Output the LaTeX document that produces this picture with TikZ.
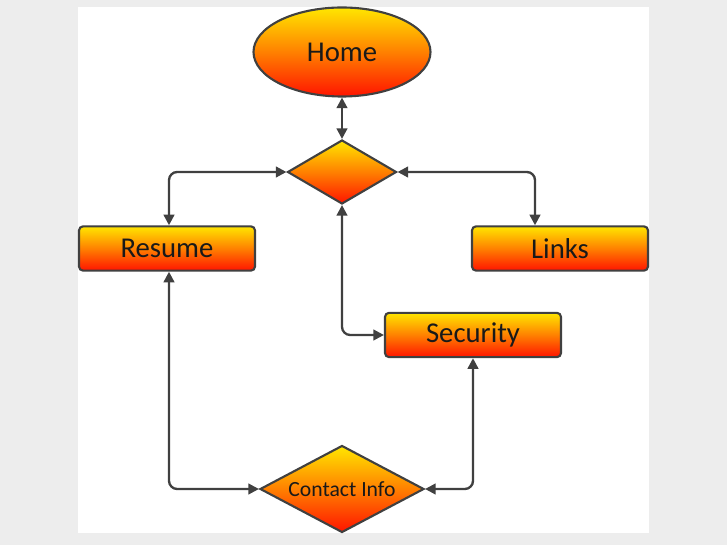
\documentclass[tikz,border=0pt]{standalone}
\usepackage{fontspec}
\setmainfont{Carlito}
\usetikzlibrary{shapes.geometric,arrows.meta}
\definecolor{bg}{HTML}{EDEDED}
\definecolor{edge}{HTML}{404040}
\definecolor{gtop}{HTML}{FFE600}
\definecolor{gmid}{HTML}{FF8000}
\definecolor{gbot}{HTML}{FF1400}
\begin{document}
\begin{tikzpicture}[x=0.03cm,y=-0.03cm,
  shadefill/.style={draw=edge,line width=1.8pt,top color=gtop,bottom color=gbot,middle color=gmid,text=black!90},
  boxnode/.style={shadefill,rectangle,rounded corners=3.5pt,minimum width=5.28cm,minimum height=1.33cm,inner sep=0pt,font=\fontsize{24.5}{28}\selectfont},
  homenode/.style={shadefill,ellipse,minimum width=5.31cm,minimum height=2.67cm,inner sep=0pt,font=\fontsize{24.5}{28}\selectfont},
  hubnode/.style={shadefill,diamond,shape aspect=1.7,minimum width=3.27cm,minimum height=1.92cm,inner sep=0pt},
  infonode/.style={shadefill,diamond,shape aspect=1.9,minimum width=4.92cm,minimum height=2.61cm,inner sep=0pt,font=\fontsize{18.5}{21}\selectfont},
  link/.style={draw=edge,line width=2pt,{Triangle[length=9pt,width=9pt]}-{Triangle[length=9pt,width=9pt]},rounded corners=7pt}]
\useasboundingbox (0,0) rectangle (727,545);
\fill[bg] (0,0) rectangle (727,545);
\fill[white] (78,7) rectangle (649,533);

\node[homenode] (home) at (342,52) {Home};
\node[hubnode] (hub) at (342,172) {};
\node[boxnode] (resume) at (167,248.5) {Resume};
\node[boxnode] (links) at (560,248.5) {Links};
\node[boxnode] (security) at (473,335) {Security};
\node[infonode] (contact) at (342,489) {Contact Info};

\draw[link] (home) -- (hub);
\draw[link] (hub.west) -| ([xshift=0.06cm]resume.north);
\draw[link] (hub.east) -| ([xshift=-0.75cm]links.north);
\draw[link] (hub.south) |- (security.west);
\draw[link] ([xshift=0.06cm]resume.south) |- (contact.west);
\draw[link] (security.south) |- (contact.east);
\end{tikzpicture}
\end{document}
